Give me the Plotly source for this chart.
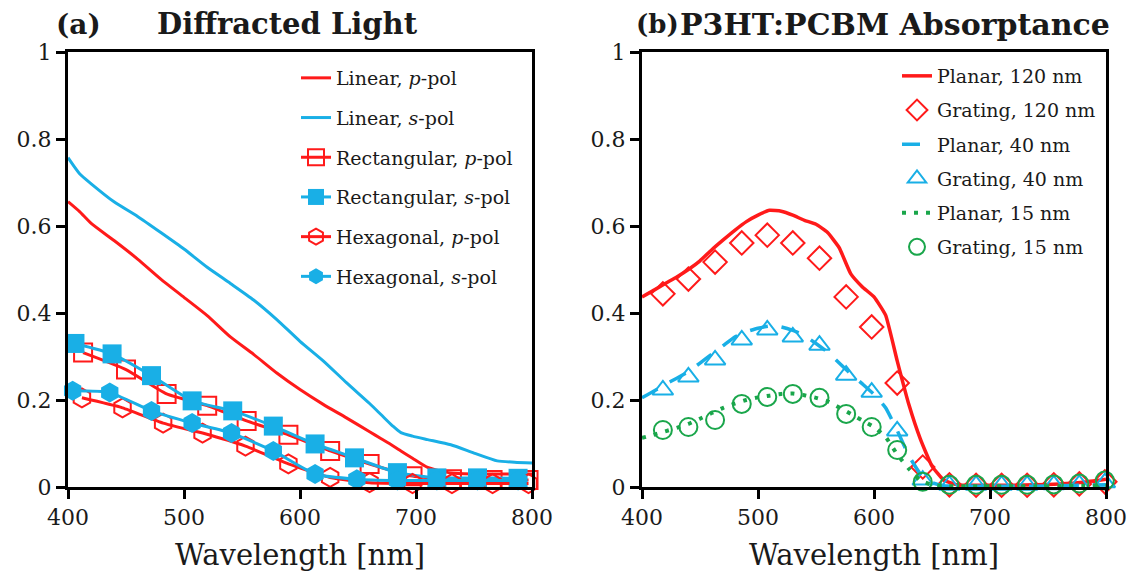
import plotly.graph_objects as go

# ---------------- (a) Diffracted light ----------------
wl_linear = [400, 410, 420, 440, 460, 480, 500, 520, 540, 560, 580, 600, 620,
             640, 660, 670, 680, 687, 697, 710, 730, 750, 770, 785, 800]
linear_p = [0.656, 0.633, 0.606, 0.566, 0.524, 0.478, 0.436, 0.394, 0.345, 0.305,
            0.262, 0.224, 0.19, 0.159, 0.127, 0.111, 0.095, 0.083, 0.066, 0.045,
            0.032, 0.03, 0.03, 0.03, 0.03]
linear_s = [0.757, 0.72, 0.697, 0.655, 0.622, 0.585, 0.547, 0.505, 0.468, 0.43,
            0.385, 0.335, 0.29, 0.24, 0.192, 0.166, 0.14, 0.125, 0.117, 0.109,
            0.097, 0.078, 0.06, 0.057, 0.055]

wl_rect_p = [413, 450, 485, 520, 554, 590, 626, 660, 697, 731, 766, 797]
rect_p = [0.309, 0.27, 0.214, 0.187, 0.152, 0.12, 0.083, 0.053, 0.025, 0.018, 0.016, 0.016]
wl_rect_s = [406, 438, 472, 507, 542, 577, 613, 647, 684, 718, 753, 788]
rect_s = [0.33, 0.306, 0.256, 0.198, 0.175, 0.14, 0.099, 0.067, 0.033, 0.021, 0.021, 0.02]

wl_hex_p = [412, 447, 482, 516, 553, 590, 626, 660, 697, 731, 766, 797]
hex_p = [0.205, 0.182, 0.147, 0.124, 0.094, 0.053, 0.022, 0.01, 0.008, 0.008, 0.008, 0.008]
wl_hex_s = [404, 436, 472, 507, 541, 577, 613, 649, 684, 718, 753, 788]
hex_s = [0.221, 0.217, 0.175, 0.147, 0.124, 0.083, 0.03, 0.018, 0.015, 0.015, 0.015, 0.015]

# ---------------- (b) P3HT:PCBM absorptance ----------------
wl_planar = [400, 410, 420, 430, 440, 450, 460, 470, 480, 490, 500, 510, 520, 530,
             540, 550, 560, 570, 580, 590, 600, 610, 620, 630, 640, 650, 660, 670,
             680, 700, 720, 740, 760, 780, 800]
planar_120 = [0.437, 0.452, 0.468, 0.483, 0.5, 0.52, 0.545, 0.568, 0.59, 0.61, 0.625,
              0.636, 0.634, 0.625, 0.613, 0.604, 0.585, 0.55, 0.49, 0.46, 0.437, 0.395,
              0.29, 0.19, 0.11, 0.048, 0.016, 0.006, 0.004, 0.004, 0.004, 0.005, 0.007,
              0.011, 0.018]
planar_40 = [0.205, 0.22, 0.236, 0.25, 0.265, 0.285, 0.305, 0.325, 0.345, 0.357, 0.365,
             0.37, 0.368, 0.36, 0.348, 0.33, 0.31, 0.285, 0.26, 0.237, 0.213, 0.182,
             0.13, 0.072, 0.03, 0.01, 0.003, 0.002, 0.002, 0.002, 0.002, 0.002, 0.003,
             0.004, 0.005]
planar_15 = [0.113, 0.12, 0.128, 0.136, 0.145, 0.157, 0.17, 0.182, 0.192, 0.2, 0.206,
             0.21, 0.214, 0.215, 0.211, 0.205, 0.197, 0.183, 0.168, 0.153, 0.138, 0.115,
             0.075, 0.042, 0.015, 0.005, 0.002, 0.002, 0.002, 0.002, 0.002, 0.002, 0.002,
             0.003, 0.003]

wl_grating = [418, 440, 463, 486, 508, 530, 553, 576, 598, 620, 642, 665, 688, 710,
              732, 755, 777, 799]
grating_120 = [0.444, 0.478, 0.517, 0.561, 0.579, 0.561, 0.526, 0.437, 0.368, 0.239,
               0.046, 0.005, 0.004, 0.004, 0.004, 0.005, 0.007, 0.012]
grating_40 = [0.223, 0.253, 0.292, 0.338, 0.361, 0.345, 0.326, 0.257, 0.218, 0.129,
              0.016, 0.004, 0.004, 0.004, 0.004, 0.005, 0.006, 0.01]
grating_15 = [0.131, 0.138, 0.154, 0.191, 0.207, 0.214, 0.205, 0.168, 0.138, 0.085,
              0.012, 0.005, 0.005, 0.005, 0.005, 0.006, 0.008, 0.015]

RED = "#FF1A1A"
BLUE = "#19AFE6"
GREEN = "#1AA64B"
INK = "#1a1a1a"
FONT = "DejaVu Serif"
W, H = 1134, 575

fig = go.Figure()

# panel (a)
fig.add_trace(go.Scatter(x=wl_linear, y=linear_p, mode="lines", name="Linear, <i>p</i>-pol",
                         line=dict(color=RED, width=3, shape="spline", smoothing=0.6),
                         legendgroup="a1", legend="legend"))
fig.add_trace(go.Scatter(x=wl_linear, y=linear_s, mode="lines", name="Linear, <i>s</i>-pol",
                         line=dict(color=BLUE, width=3, shape="spline", smoothing=0.6),
                         legendgroup="a2", legend="legend"))
fig.add_trace(go.Scatter(x=wl_rect_p, y=rect_p, mode="lines+markers",
                         name="Rectangular, <i>p</i>-pol", cliponaxis=False,
                         line=dict(color=RED, width=3, shape="spline", smoothing=0.5),
                         marker=dict(symbol="square-open", size=18, color=RED,
                                     line=dict(width=2, color=RED)),
                         legendgroup="a3", legend="legend"))
fig.add_trace(go.Scatter(x=wl_rect_s, y=rect_s, mode="lines+markers",
                         name="Rectangular, <i>s</i>-pol", cliponaxis=False,
                         line=dict(color=BLUE, width=3, shape="spline", smoothing=0.5),
                         marker=dict(symbol="square", size=19, color=BLUE),
                         legendgroup="a4", legend="legend"))
fig.add_trace(go.Scatter(x=wl_hex_p, y=hex_p, mode="lines+markers",
                         name="Hexagonal, <i>p</i>-pol", cliponaxis=False,
                         line=dict(color=RED, width=3, shape="spline", smoothing=0.5),
                         marker=dict(symbol="hexagon-open", size=19, color=RED,
                                     line=dict(width=2, color=RED)),
                         legendgroup="a5", legend="legend"))
fig.add_trace(go.Scatter(x=wl_hex_s, y=hex_s, mode="lines+markers",
                         name="Hexagonal, <i>s</i>-pol", cliponaxis=False,
                         line=dict(color=BLUE, width=3, shape="spline", smoothing=0.5),
                         marker=dict(symbol="hexagon", size=20, color=BLUE),
                         legendgroup="a6", legend="legend"))

# panel (b)
fig.add_trace(go.Scatter(x=wl_planar, y=planar_120, mode="lines", name="Planar, 120 nm",
                         line=dict(color=RED, width=3.5, shape="spline", smoothing=0.4),
                         xaxis="x2", yaxis="y2", legendgroup="b1", legend="legend2"))
fig.add_trace(go.Scatter(x=wl_grating, y=grating_120, mode="markers", name="Grating, 120 nm",
                         cliponaxis=False, xaxis="x2", yaxis="y2",
                         marker=dict(symbol="diamond-open", size=18, color=RED,
                                     line=dict(width=2, color=RED)),
                         legendgroup="b2", legend="legend2"))
fig.add_trace(go.Scatter(x=wl_planar, y=planar_40, mode="lines", name="Planar, 40 nm",
                         line=dict(color=BLUE, width=3.5, dash="18px,14px",
                                   shape="spline", smoothing=0.4),
                         xaxis="x2", yaxis="y2", legendgroup="b3", legend="legend2"))
fig.add_trace(go.Scatter(x=wl_grating, y=grating_40, mode="markers", name="Grating, 40 nm",
                         cliponaxis=False, xaxis="x2", yaxis="y2",
                         marker=dict(symbol="triangle-up-open", size=18, color=BLUE,
                                     line=dict(width=2, color=BLUE)),
                         legendgroup="b4", legend="legend2"))
fig.add_trace(go.Scatter(x=wl_planar, y=planar_15, mode="lines", name="Planar, 15 nm",
                         line=dict(color=GREEN, width=4, dash="4px,8px",
                                   shape="spline", smoothing=0.4),
                         xaxis="x2", yaxis="y2", legendgroup="b5", legend="legend2"))
fig.add_trace(go.Scatter(x=wl_grating, y=grating_15, mode="markers", name="Grating, 15 nm",
                         cliponaxis=False, xaxis="x2", yaxis="y2",
                         marker=dict(symbol="circle-open", size=18, color=GREEN,
                                     line=dict(width=2, color=GREEN)),
                         legendgroup="b6", legend="legend2"))

ydom = [(H - 487) / H, (H - 52) / H]
xaxis_common = dict(range=[400, 800], tickvals=[400, 500, 600, 700, 800],
                    showline=True, linecolor="black", linewidth=3, mirror=True,
                    ticks="outside", ticklen=9, tickwidth=3, tickcolor="black",
                    showgrid=False, zeroline=False, automargin=False,
                    tickfont=dict(family=FONT, size=22, color=INK),
                    title=dict(text="Wavelength [nm]", standoff=16,
                               font=dict(family=FONT, size=29, color=INK)))
yaxis_common = dict(range=[0, 1], tickvals=[0, 0.2, 0.4, 0.6, 0.8, 1],
                    showline=True, linecolor="black", linewidth=3, mirror=True,
                    ticks="outside", ticklen=9, tickwidth=3, tickcolor="black",
                    showgrid=False, zeroline=False, domain=ydom, automargin=False,
                    tickfont=dict(family=FONT, size=22, color=INK))

legend_common = dict(font=dict(family=FONT, size=19, color=INK),
                     bgcolor="rgba(255,255,255,0)", borderwidth=0,
                     traceorder="grouped", itemsizing="trace",
                     xanchor="left", yanchor="top")


def panel_title(text, x_px, size):
    return dict(text=text, xref="paper", yref="paper", x=x_px / W, y=1 - 24 / H,
                xanchor="left", yanchor="middle", showarrow=False,
                font=dict(family=FONT, size=size, color=INK))


fig.update_layout(
    width=W, height=H, autosize=False,
    margin=dict(l=0, r=0, t=0, b=0),
    paper_bgcolor="white", plot_bgcolor="white",
    font=dict(family=FONT, color=INK),
    xaxis=dict(xaxis_common, domain=[68 / W, 532 / W], anchor="y"),
    yaxis=dict(yaxis_common, anchor="x"),
    xaxis2=dict(xaxis_common, domain=[642 / W, 1106 / W], anchor="y2"),
    yaxis2=dict(yaxis_common, anchor="x2"),
    legend=dict(legend_common, x=296 / W, y=1 - 59 / H, tracegroupgap=12),
    legend2=dict(legend_common, x=897 / W, y=1 - 57 / H, tracegroupgap=6.5),
    annotations=[
        panel_title("<b>(a)</b>", 54, 28),
        panel_title("<b>Diffracted Light</b>", 155, 29),
        panel_title("<b>(b)</b>", 634, 26),
        panel_title("<b>P3HT:PCBM Absorptance</b>", 678, 30),
    ],
)

fig.write_html("out.html")
